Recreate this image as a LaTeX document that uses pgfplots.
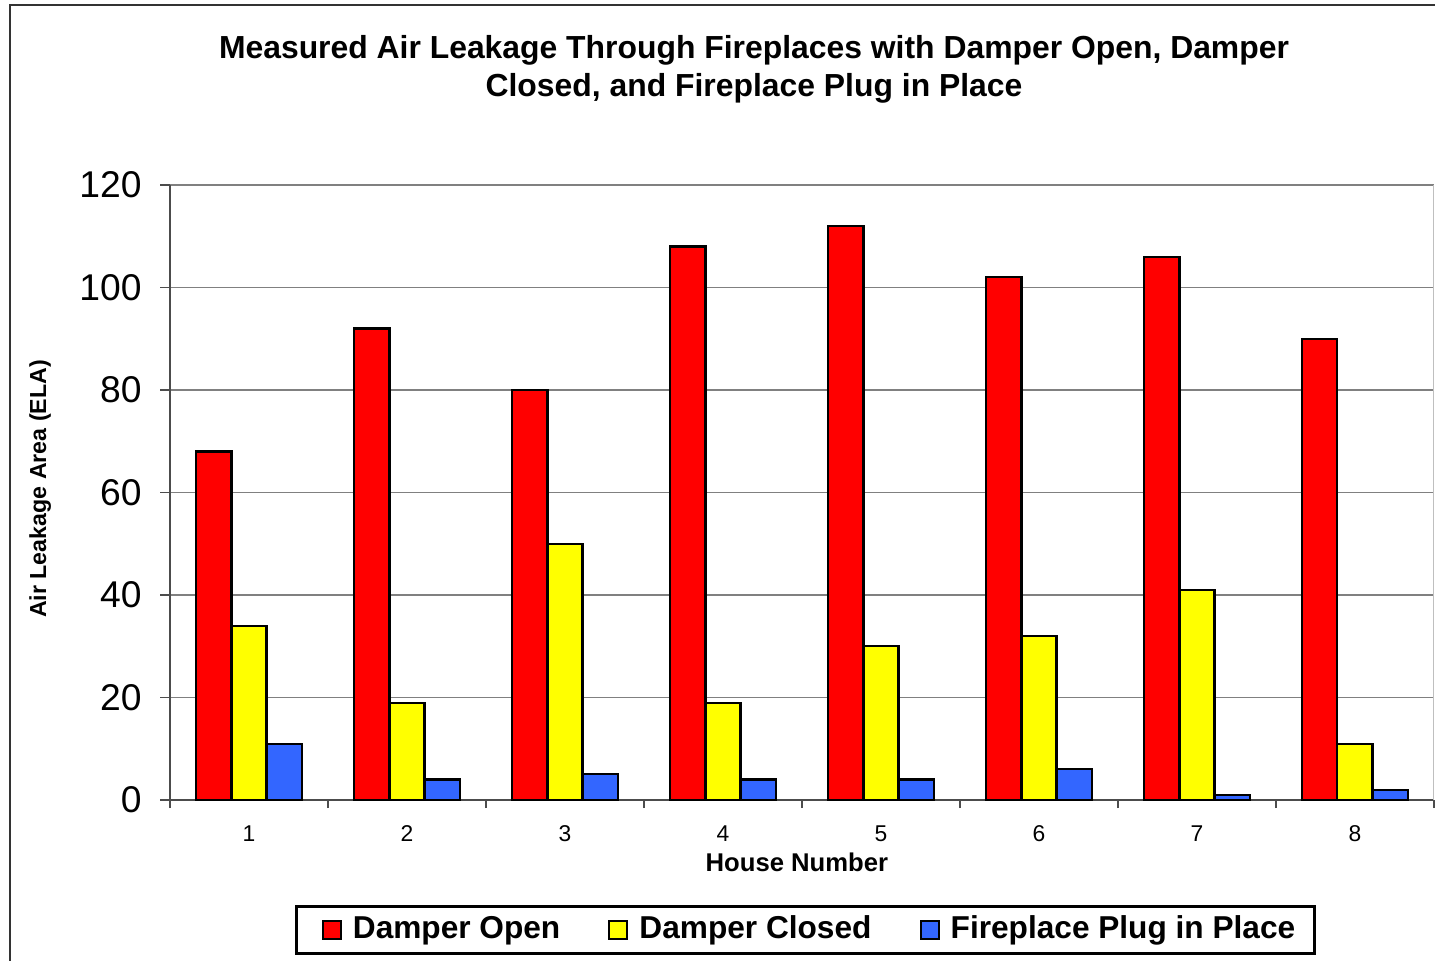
\documentclass[border=0pt]{standalone}
\usepackage{pgfplots}
\pgfplotsset{compat=1.18}
\usepackage{fontspec}
\setmainfont{Liberation Sans}
\definecolor{barred}{HTML}{FF0000}
\definecolor{baryellow}{HTML}{FFFF00}
\definecolor{barblue}{HTML}{3366FF}
\definecolor{gridgray}{HTML}{808080}

\begin{document}
\begin{tikzpicture}
% page is 14.35cm x 9.60cm (1 px = 0.01cm)
\path[use as bounding box] (0,0) rectangle (14.35,9.60);
\draw[line width=0.6pt, black!80] (0.10,-0.5) -- (0.10,9.55) -- (15,9.55);
\node[align=center, font=\bfseries\fontsize{9.07}{10.8}\selectfont] at (7.54,8.91)
  {Measured Air Leakage Through Fireplaces with Damper Open, Damper\\Closed, and Fireplace Plug in Place};

\begin{axis}[
  at={(1.70cm,1.60cm)}, anchor=south west,
  scale only axis, width=12.64cm, height=6.15cm,
  xmin=0.5, xmax=8.5, ymin=0, ymax=120,
  ybar,
  ytick={0,20,...,120},
  xtick={1,...,8},
  minor xtick={0.5,1.5,...,8.5},
  axis lines*=left,
  axis line style={black!70, line width=0.6pt},
  tick align=outside,
  major tick length=0.1cm,
  minor tick length=0.08cm,
  major x tick style={draw=none},
  every tick/.style={black!70, line width=0.5pt},
  ymajorgrids,
  grid style={gridgray, line width=0.5pt},
  /pgf/number format/assume math mode=true,
  yticklabel style={font=\fontsize{10.6}{12}\selectfont, xshift=-0.06cm},
  xticklabel style={font=\fontsize{6.5}{7.5}\selectfont, yshift=-0.03cm},
  xlabel={House Number},
  ylabel={Air Leakage Area (ELA)},
  xlabel style={font=\bfseries\fontsize{7.3}{9}\selectfont, at={(axis description cs:0.496,-0.1008)}, anchor=center},
  ylabel style={font=\bfseries\fontsize{6.6}{8}\selectfont, at={(axis description cs:-0.1028,0.5057)}, anchor=center},
  legend columns=3,
  legend style={at={(axis description cs:0.5028,-0.2114)}, anchor=center, draw=black, line width=0.9pt,
    inner xsep=0.12cm, inner ysep=0.02cm,
    font=\bfseries\fontsize{9}{11}\selectfont,
    /tikz/every even column/.append style={column sep=0.28cm}},
  legend image code/.code={\draw[#1, line width=0.6pt] (0cm,-0.09cm) rectangle (0.18cm,0.09cm);
    \path (-0.13cm,0cm) (0.22cm,0cm);},
]
\addplot[bar width=0.222, bar shift=-0.222, fill=barred, draw=black, line width=0.6pt]
  coordinates {(1,68) (2,92) (3,80) (4,108) (5,112) (6,102) (7,106) (8,90)};
\addplot[bar width=0.222, bar shift=0, fill=baryellow, draw=black, line width=0.6pt]
  coordinates {(1,34) (2,19) (3,50) (4,19) (5,30) (6,32) (7,41) (8,11)};
\addplot[bar width=0.222, bar shift=0.222, fill=barblue, draw=black, line width=0.6pt]
  coordinates {(1,11) (2,4) (3,5) (4,4) (5,4) (6,6) (7,1) (8,2)};
\legend{Damper Open, Damper Closed, Fireplace Plug in Place}
\draw[black!25, line width=0.5pt] (rel axis cs:1,0) -- (rel axis cs:1,1);
\end{axis}
\end{tikzpicture}
\end{document}
